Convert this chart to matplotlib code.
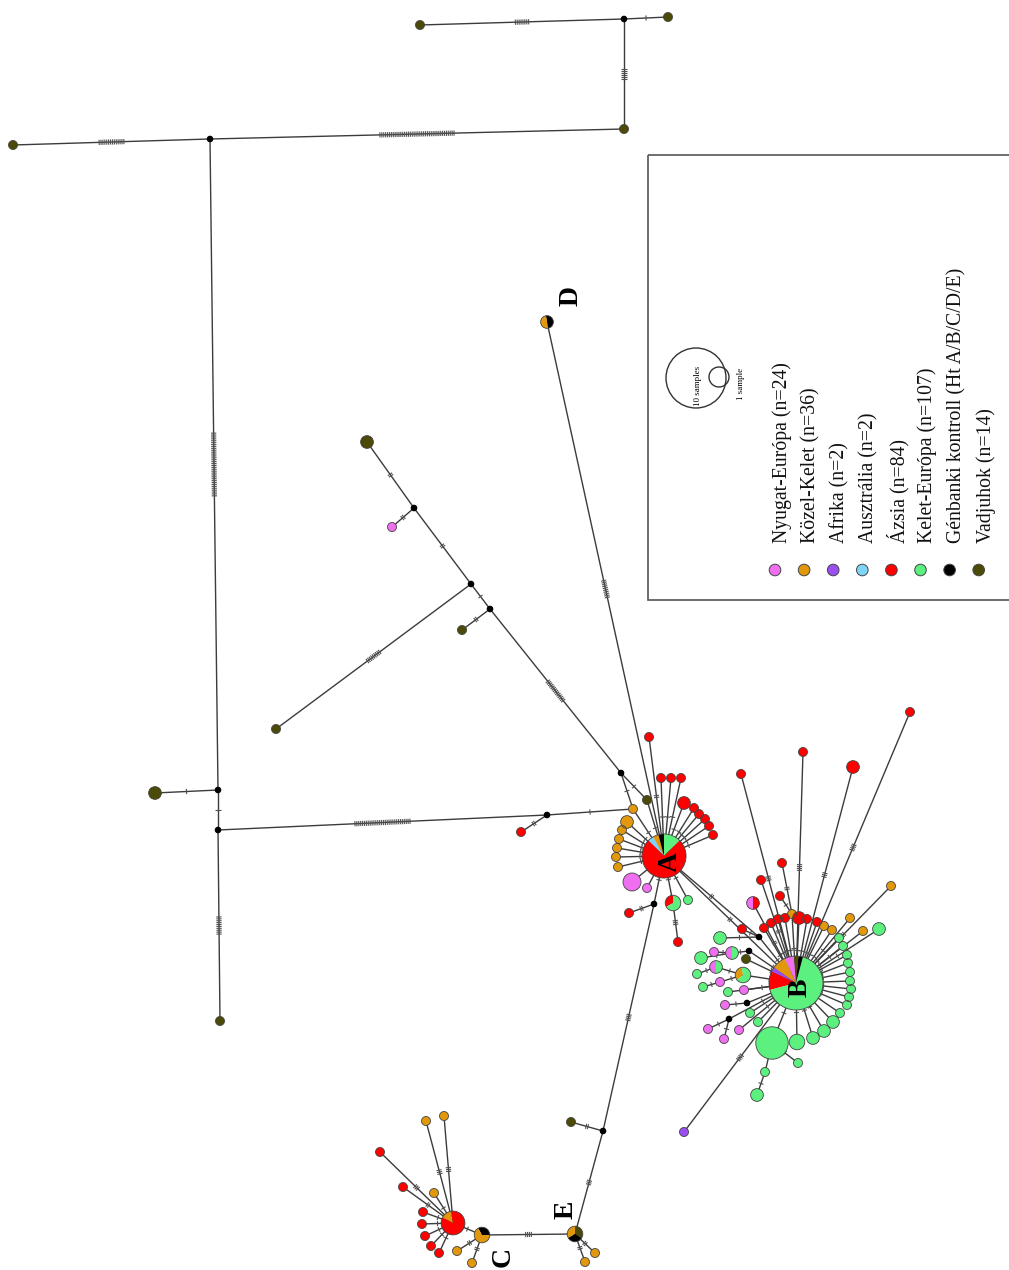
import numpy as np
import matplotlib.pyplot as plt
from matplotlib.patches import Wedge, Circle, Rectangle
from matplotlib.collections import LineCollection

plt.rcParams['font.family'] = ['Liberation Serif', 'DejaVu Serif']

# sample groups
cat_keys = ['NY', 'KK', 'AF', 'AU', 'AZ', 'KE', 'GK', 'VA']
cat_names = ['Nyugat-Európa (n=24)', 'Közel-Kelet (n=36)', 'Afrika (n=2)',
             'Ausztrália (n=2)', 'Ázsia (n=84)', 'Kelet-Európa (n=107)',
             'Génbanki kontroll (Ht A/B/C/D/E)', 'Vadjuhok (n=14)']
cat_colors = ['#f06ef0', '#e2980c', '#9b4df2', '#7fd4f7', '#ff0000',
              '#5cf07e', '#000000', '#4b4a06']

# haplotype positions (layout coordinates)
pos = {
    'v1': (420, 25), 'j1': (624, 19), 'v2': (668, 17), 'v3': (624, 129),
    'j2': (210, 139), 'v4': (13, 145), 'j3': (218, 790), 'v5': (155, 793),
    'j4': (218, 830), 'v6': (220, 1021), 'j5': (547, 815), 'r_j5': (521, 832),
    'o_link': (633, 809), 'v7': (367, 442), 'j6': (414, 508), 'p_j6': (392, 527),
    'j7': (471, 584), 'v8': (276, 729), 'j8': (490, 609), 'v9': (462, 630),
    'j9': (621, 773), 'v10': (647, 800), 'D': (547, 322),
    'A': (664, 856),
    'a1': (649, 737), 'a2': (661, 778), 'a3': (671, 778), 'a4': (681, 778),
    'a5': (684, 803), 'a6': (694, 808), 'a7': (699, 814), 'a8': (705, 819),
    'a9': (709, 826), 'a10': (713, 835), 'a11': (627, 822), 'a12': (622, 830),
    'a13': (619, 839), 'a14': (617, 848), 'a15': (616, 857), 'a16': (618, 867),
    'a17': (632, 882), 'a18': (647, 888), 'j11': (654, 904), 'a19': (629, 913),
    'a20': (673, 903), 'a21': (688, 900), 'a22': (678, 942),
    'j10': (603, 1131), 'v11': (571, 1122), 'E': (575, 1234),
    'e1': (595, 1253), 'e2': (585, 1262), 'C': (482, 1235),
    'c1': (457, 1251), 'c2': (472, 1263), 'hubC': (453, 1223),
    'hc1': (426, 1121), 'hc2': (444, 1116), 'hc3': (380, 1152), 'hc4': (403, 1187),
    'hc5': (434, 1193), 'hc6': (423, 1212), 'hc7': (422, 1224), 'hc8': (425, 1236),
    'hc9': (431, 1246), 'hc10': (439, 1253),
    'B': (796, 983),
    'b1': (910, 712), 'b2': (803, 752), 'b3': (853, 767), 'b4': (741, 774),
    'b5': (782, 863), 'b6': (761, 880), 'b7': (780, 896), 'b8': (753, 903),
    'b9': (742, 929), 'b10': (764, 928), 'b11': (771, 923), 'b12': (778, 919),
    'b13': (785, 918), 'b14': (792, 914), 'b15': (799, 918), 'b16': (807, 919),
    'b17': (817, 922), 'b18': (824, 926), 'b19': (832, 930), 'b20': (850, 918),
    'b21': (863, 931), 'b22': (891, 886), 'b23': (879, 929),
    'g1': (839, 938), 'g2': (843, 946), 'g3': (847, 955), 'g4': (848, 963),
    'g5': (850, 972), 'g6': (850, 981), 'g7': (851, 989), 'g8': (849, 997),
    'g9': (847, 1005), 'g10': (840, 1013), 'g11': (833, 1022), 'g12': (824, 1031),
    'g13': (813, 1038), 'g14': (797, 1042),
    'gb': (772, 1043), 'gb1': (798, 1063), 'gb2': (765, 1072), 'gb3': (757, 1095),
    'bp': (684, 1132),
    'j12': (759, 937), 'l1': (720, 938), 'j13': (749, 951), 'l2': (732, 953),
    'l3': (714, 952), 'l4': (701, 958), 'l5': (746, 959), 'l6': (743, 975),
    'l7': (716, 967), 'l8': (697, 974), 'l9': (720, 982), 'l10': (703, 987),
    'l11': (744, 990), 'l12': (728, 992), 'j14': (747, 1003), 'l13': (725, 1005),
    'l14': (750, 1013), 'j15': (729, 1019), 'l15': (708, 1029), 'l16': (724, 1039),
    'l17': (758, 1022), 'l18': (739, 1030),
}

# samples per haplotype ("" = median vector)
samples = {
    'v1': 'VA1', 'v2': 'VA1', 'v3': 'VA1', 'v4': 'VA1', 'v5': 'VA2', 'v6': 'VA1',
    'r_j5': 'AZ1', 'o_link': 'KK1', 'v7': 'VA2', 'p_j6': 'NY1', 'v8': 'VA1',
    'v9': 'VA1', 'v10': 'VA1', 'D': 'GK1 KK1',
    'A': 'KE3 GK1 KK1 AU1 AZ18',
    'a1': 'AZ1', 'a2': 'AZ1', 'a3': 'AZ1', 'a4': 'AZ1', 'a5': 'AZ2', 'a6': 'AZ1',
    'a7': 'AZ1', 'a8': 'AZ1', 'a9': 'AZ1', 'a10': 'AZ1', 'a11': 'KK2',
    'a12': 'KK1', 'a13': 'KK1', 'a14': 'KK1', 'a15': 'KK1', 'a16': 'KK1',
    'a17': 'NY4', 'a18': 'NY1', 'a19': 'AZ1', 'a20': 'AZ1 KE2', 'a21': 'KE1',
    'a22': 'AZ1', 'v11': 'VA1', 'E': 'VA1 KK1 GK1', 'e1': 'KK1', 'e2': 'KK1',
    'C': 'GK1 KK2', 'c1': 'KK1', 'c2': 'KK1', 'hubC': 'KK1 AZ6',
    'hc1': 'KK1', 'hc2': 'KK1', 'hc3': 'AZ1', 'hc4': 'AZ1', 'hc5': 'KK1',
    'hc6': 'AZ1', 'hc7': 'AZ1', 'hc8': 'AZ1', 'hc9': 'AZ1', 'hc10': 'AZ1',
    'B': 'GK1 VA1 NY2 KK3 AF1 AZ4 KE24',
    'b1': 'AZ1', 'b2': 'AZ1', 'b3': 'AZ2', 'b4': 'AZ1', 'b5': 'AZ1', 'b6': 'AZ1',
    'b7': 'AZ1', 'b8': 'NY1 AZ1', 'b9': 'AZ1', 'b10': 'AZ1', 'b11': 'AZ1',
    'b12': 'AZ1', 'b13': 'AZ1', 'b14': 'KK1', 'b15': 'AZ2', 'b16': 'AZ1',
    'b17': 'AZ1', 'b18': 'KK1', 'b19': 'KK1', 'b20': 'KK1', 'b21': 'KK1',
    'b22': 'KK1', 'b23': 'KE2',
    'g1': 'KE1', 'g2': 'KE1', 'g3': 'KE1', 'g4': 'KE1', 'g5': 'KE1', 'g6': 'KE1',
    'g7': 'KE1', 'g8': 'KE1', 'g9': 'KE1', 'g10': 'KE1', 'g11': 'KE2',
    'g12': 'KE2', 'g13': 'KE2', 'g14': 'KE3',
    'gb': 'KE13', 'gb1': 'KE1', 'gb2': 'KE1', 'gb3': 'KE2', 'bp': 'AF1',
    'l1': 'KE2', 'l2': 'NY1 KE1', 'l3': 'NY1', 'l4': 'KE2', 'l5': 'VA1',
    'l6': 'KK1 KE2', 'l7': 'NY1 KE1', 'l8': 'KE1', 'l9': 'NY1', 'l10': 'KE1',
    'l11': 'NY1', 'l12': 'KE1', 'l13': 'NY1', 'l14': 'KE1', 'l15': 'NY1',
    'l16': 'NY1', 'l17': 'KE1', 'l18': 'NY1',
}

# where the first slice of a pie starts (degrees, counter-clockwise)
pie_start = {'A': 45, 'B': 75, 'hubC': 100, 'D': -80, 'E': -30, 'C': 0,
             'a20': 90, 'b8': 90, 'l2': 90, 'l6': 100, 'l7': 90}

# links between haplotypes and number of mutations on each
edges = [
    ('v1', 'j1', 8), ('j1', 'v2', 1), ('j1', 'v3', 6), ('v3', 'j2', 40),
    ('j2', 'v4', 14), ('j2', 'j3', 34), ('j3', 'v5', 1), ('j3', 'j4', 1),
    ('j4', 'v6', 10), ('j4', 'j5', 30), ('j5', 'r_j5', 2), ('j5', 'o_link', 1),
    ('o_link', 'A', 1), ('v7', 'j6', 2), ('j6', 'p_j6', 2), ('j6', 'j7', 2),
    ('j7', 'v8', 9), ('j7', 'j8', 1), ('j8', 'v9', 2), ('j8', 'j9', 14),
    ('j9', 'v10', 1), ('j9', 'o_link', 1), ('v10', 'A', 1), ('D', 'A', 10),
    ('A', 'j11', 1), ('j11', 'a19', 2), ('j11', 'j10', 4), ('j10', 'v11', 2),
    ('j10', 'E', 3), ('E', 'e1', 2), ('E', 'e2', 2), ('E', 'C', 4),
    ('C', 'c1', 2), ('C', 'c2', 2), ('C', 'hubC', 1),
    ('hubC', 'hc1', 3), ('hubC', 'hc2', 3), ('hubC', 'hc3', 3), ('hubC', 'hc4', 2),
    ('hubC', 'hc5', 1), ('hubC', 'hc6', 1), ('hubC', 'hc7', 1), ('hubC', 'hc8', 1),
    ('hubC', 'hc9', 1), ('hubC', 'hc10', 1),
    ('A', 'a1', 2), ('A', 'a2', 1), ('A', 'a3', 1), ('A', 'a4', 1), ('A', 'a5', 1),
    ('A', 'a6', 1), ('A', 'a7', 1), ('A', 'a8', 1), ('A', 'a9', 1), ('A', 'a10', 1),
    ('A', 'a11', 1), ('A', 'a12', 1), ('A', 'a13', 1), ('A', 'a14', 1),
    ('A', 'a15', 1), ('A', 'a16', 1), ('A', 'a17', 1), ('A', 'a18', 1),
    ('A', 'a20', 1), ('A', 'a21', 1), ('a20', 'a22', 3),
    ('A', 'B', 2), ('A', 'j12', 2),
    ('B', 'b1', 4), ('B', 'b2', 4), ('B', 'b3', 3), ('B', 'b4', 3),
    ('b14', 'b5', 2), ('B', 'b6', 2), ('b14', 'b7', 1), ('B', 'b8', 2),
    ('j12', 'b9', 1), ('B', 'b10', 1), ('B', 'b11', 1), ('B', 'b12', 1),
    ('B', 'b13', 1), ('B', 'b14', 1), ('B', 'b15', 1), ('B', 'b16', 1),
    ('B', 'b17', 1), ('B', 'b18', 1), ('B', 'b19', 1), ('B', 'b20', 1),
    ('B', 'b21', 1), ('B', 'b22', 2), ('B', 'b23', 1),
    ('B', 'g1', 1), ('B', 'g2', 1), ('B', 'g3', 1), ('B', 'g4', 1), ('B', 'g5', 1),
    ('B', 'g6', 1), ('B', 'g7', 1), ('B', 'g8', 1), ('B', 'g9', 1), ('B', 'g10', 1),
    ('B', 'g11', 1), ('B', 'g12', 1), ('B', 'g13', 1), ('B', 'g14', 1),
    ('B', 'gb', 1), ('gb', 'gb1', 1), ('gb', 'gb2', 1), ('gb2', 'gb3', 1),
    ('B', 'bp', 4),
    ('B', 'j12', 1), ('j12', 'l1', 1), ('B', 'j13', 1), ('j13', 'l2', 1),
    ('l2', 'l3', 1), ('l2', 'l4', 1), ('B', 'l5', 1), ('B', 'l6', 1),
    ('l6', 'l7', 1), ('l7', 'l8', 1), ('l6', 'l9', 1), ('l9', 'l10', 1),
    ('B', 'l11', 1), ('B', 'l12', 1), ('B', 'j14', 1), ('j14', 'l13', 1),
    ('B', 'l14', 1), ('B', 'j15', 1), ('j15', 'l15', 1), ('j15', 'l16', 1),
    ('B', 'l17', 1), ('B', 'l18', 1),
]

# cluster labels
hap_labels = ['A', 'B', 'C', 'D', 'E']
hap_label_xy = [(670, 862), (800, 988), (503, 1257), (571, 296), (566, 1210)]


def parse(spec):
    parts = []
    for tok in spec.split():
        parts.append((tok[:2], int(tok[2:])))
    return parts


fig = plt.figure(figsize=(10.09, 12.7), dpi=100)
ax = fig.add_axes([0, 0, 1, 1])
ax.set_xlim(0, 1009)
ax.set_ylim(1270, 0)
ax.set_aspect('equal')
ax.axis('off')

# links
segs = []
ticks = []
for u, v, m in edges:
    p0 = np.array(pos[u], float)
    p1 = np.array(pos[v], float)
    segs.append([p0, p1])
    d = p1 - p0
    length = np.hypot(*d)
    d = d / length
    perp = np.array([-d[1], d[0]])
    mid = (p0 + p1) / 2
    step = 1.9
    for k in range(m):
        c = mid + d * (k - (m - 1) / 2) * step
        ticks.append([c - perp * 2.6, c + perp * 2.6])
ax.add_collection(LineCollection(segs, colors='#3c3c3c', linewidths=1.0, zorder=1))
ax.add_collection(LineCollection(ticks, colors='#505050', linewidths=0.8, zorder=1))

# haplotype nodes
color_of = dict(zip(cat_keys, cat_colors))
for name, (x, y) in pos.items():
    spec = samples.get(name, '')
    if not spec:
        ax.add_patch(Circle((x, y), 2.6, color='black', zorder=3))
        continue
    parts = parse(spec)
    total = sum(n for _, n in parts)
    r = 4.5 * np.sqrt(total)
    a = pie_start.get(name, 90)
    for key, n in parts:
        span = 360.0 * n / total
        ax.add_patch(Wedge((x, y), r, -(a + span), -a, facecolor=color_of[key],
                           edgecolor='none', zorder=2))
        a += span
    ax.add_patch(Circle((x, y), r, fill=False, ec='#444444', lw=0.6, zorder=2.5))

for lab, (x, y) in zip(hap_labels, hap_label_xy):
    ax.text(x, y, lab, rotation=90, ha='center', va='center', fontsize=20,
            fontweight='bold', color='black', zorder=4)

# legend box
ax.add_patch(Rectangle((648, 155), 420, 445, fill=False, ec='#555555', lw=1.2, zorder=5))
ax.add_patch(Circle((696, 378), 30, fill=False, ec='#333333', lw=1.0, zorder=5))
ax.add_patch(Circle((719, 377), 10, fill=False, ec='#333333', lw=1.0, zorder=5))
ax.text(698, 386, '10 samples', rotation=90, ha='center', va='center', fontsize=6.5, zorder=5)
ax.text(741, 384, '1 sample', rotation=90, ha='center', va='center', fontsize=6.5, zorder=5)
for i, (name, col) in enumerate(zip(cat_names, cat_colors)):
    cx = 775 + i * 29.1
    ax.add_patch(Circle((cx, 570), 5.8, facecolor=col, ec='#444444', lw=0.7, zorder=5))
    ax.text(cx + 7, 543, name, rotation=90, ha='center', va='bottom', fontsize=14.2,
            color='#111111', zorder=5)

fig.savefig('out.png', dpi=100, facecolor='white')
